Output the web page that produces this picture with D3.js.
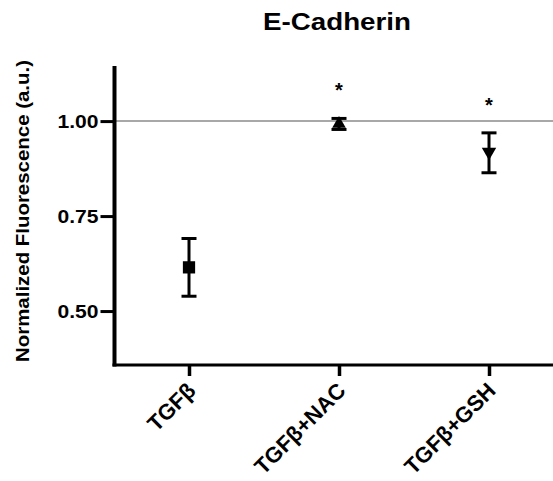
<!DOCTYPE html>
<html>
<head>
<meta charset="utf-8">
<script src="https://d3js.org/d3.v7.min.js"></script>
<style>
  body { margin: 0; background: #fff; }
  text { font-family: "Liberation Sans", Arial, sans-serif; font-weight: bold; fill: #000; }
</style>
</head>
<body>
<div id="chart"></div>
<script>
// data
var groups = ["TGFβ", "TGFβ+NAC", "TGFβ+GSH"];
var means  = [0.615, 0.993, 0.919];
var upper  = [0.691, 1.007, 0.969];
var lower  = [0.539, 0.978, 0.864];
var markers = ["square", "up", "down"];
var signif = ["", "*", "*"];
var yTicks = [0.50, 0.75, 1.00];

var width = 553, height = 481;

var svg = d3.select("#chart").append("svg")
  .attr("width", width)
  .attr("height", height);

var x = d3.scalePoint()
  .domain(groups)
  .range([114, 564])
  .padding(0.5);

var y = d3.scaleLinear()
  .domain([0.358, 1.145])
  .range([365, 66]);

// reference line at 1.0
svg.append("line")
  .attr("x1", 116).attr("x2", width)
  .attr("y1", y(1)).attr("y2", y(1))
  .style("stroke", "#a8a8a8")
  .style("stroke-width", 2);

// y axis
var yAxis = svg.append("g")
  .attr("transform", "translate(114.5,0)")
  .call(d3.axisLeft(y).tickValues(yTicks).tickSize(14).tickPadding(2).tickFormat(d3.format(".2f")));
yAxis.select(".domain").remove();
yAxis.selectAll(".tick line").style("stroke", "#000").style("stroke-width", 3);
yAxis.selectAll(".tick text")
  .style("font-size", "19px")
  .attr("textLength", 41)
  .attr("lengthAdjust", "spacingAndGlyphs");

svg.append("line")
  .attr("x1", 114.5).attr("x2", 114.5)
  .attr("y1", 66).attr("y2", 366.5)
  .style("stroke", "#000").style("stroke-width", 4);

// x axis
var xAxis = svg.append("g")
  .attr("transform", "translate(0,365)")
  .call(d3.axisBottom(x).tickSize(11).tickFormat(""));
xAxis.select(".domain").remove();
xAxis.selectAll(".tick line").style("stroke", "#000").style("stroke-width", 3.5);

svg.append("line")
  .attr("x1", 112.5).attr("x2", width)
  .attr("y1", 365).attr("y2", 365)
  .style("stroke", "#000").style("stroke-width", 3);

// rotated category labels
svg.selectAll(".xlab")
  .data(groups)
  .enter().append("text")
  .attr("class", "xlab")
  .attr("transform", function(d) { return "translate(" + (x(d) + 8) + ",392) rotate(-45)"; })
  .style("text-anchor", "end")
  .style("font-size", "22px")
  .text(function(d) { return d; });

// error bars
var idx = d3.range(groups.length);
svg.selectAll(".err")
  .data(idx)
  .enter().append("line")
  .attr("x1", function(i) { return x(groups[i]); })
  .attr("x2", function(i) { return x(groups[i]); })
  .attr("y1", function(i) { return y(upper[i]); })
  .attr("y2", function(i) { return y(lower[i]); })
  .style("stroke", "#000").style("stroke-width", 3);

[upper, lower].forEach(function(arr) {
  svg.selectAll(null)
    .data(idx)
    .enter().append("line")
    .attr("x1", function(i) { return x(groups[i]) - 7.5; })
    .attr("x2", function(i) { return x(groups[i]) + 7.5; })
    .attr("y1", function(i) { return y(arr[i]); })
    .attr("y2", function(i) { return y(arr[i]); })
    .style("stroke", "#000").style("stroke-width", 3);
});

// markers
var sym = {
  square: d3.symbol().type(d3.symbolSquare).size(150),
  up: d3.symbol().type(d3.symbolTriangle).size(80),
  down: d3.symbol().type(d3.symbolTriangle).size(90)
};
svg.selectAll(".pt")
  .data(idx)
  .enter().append("path")
  .attr("d", function(i) { return sym[markers[i]](); })
  .attr("transform", function(i) {
    return "translate(" + x(groups[i]) + "," + y(means[i]) + ")" + (markers[i] == "down" ? " rotate(180)" : "");
  })
  .style("fill", "#000");

// significance stars
svg.selectAll(".star")
  .data(idx)
  .enter().append("text")
  .attr("x", function(i) { return x(groups[i]); })
  .attr("y", function(i) { return y(upper[i]) - 21; })
  .style("text-anchor", "middle")
  .style("font-size", "20px")
  .text(function(i) { return signif[i]; });

// title
svg.append("text")
  .attr("x", 337)
  .attr("y", 30)
  .style("text-anchor", "middle")
  .style("font-size", "23px")
  .attr("textLength", 148)
  .attr("lengthAdjust", "spacingAndGlyphs")
  .text("E-Cadherin");

// y label
svg.append("text")
  .attr("transform", "translate(29,211) rotate(-90)")
  .style("text-anchor", "middle")
  .style("font-size", "17.5px")
  .attr("textLength", 302)
  .attr("lengthAdjust", "spacingAndGlyphs")
  .text("Normalized  Fluorescence (a.u.)");
</script>
</body>
</html>
